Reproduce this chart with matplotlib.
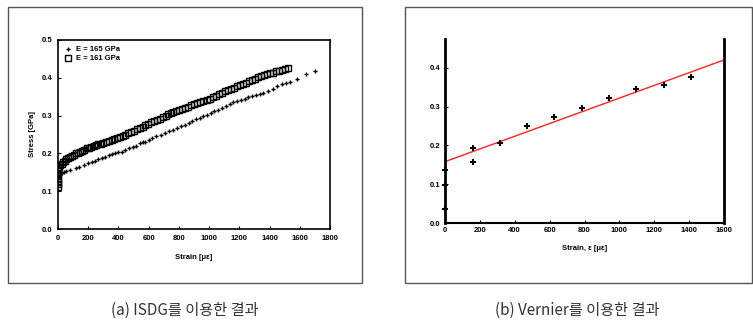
import matplotlib
matplotlib.use("Agg")
import matplotlib.pyplot as plt
from matplotlib.patches import Rectangle

plt.rcParams['font.family'] = ['Liberation Sans', 'Noto Sans CJK KR', 'DejaVu Sans']

# (a) ISDG - squares, E = 161 GPa
sq_x = [0, 0, 0, 0, 0, 0, 0,
        8, 15, 25, 35, 45, 55, 68, 80, 92, 105, 118, 130, 146, 160, 175, 190,
        205, 220, 235, 250, 268, 285, 300, 318, 335, 355, 372, 390, 408, 428,
        446, 466, 485, 505, 525, 545, 560, 576, 595, 615, 635, 655, 675, 695,
        712, 730, 748, 764, 782, 800, 820, 840, 860, 880, 900, 920, 940, 962,
        985, 1005, 1025, 1045, 1065, 1085, 1105, 1125, 1145, 1165, 1184, 1205,
        1225, 1245, 1265, 1285, 1305, 1325, 1345, 1365, 1385, 1405, 1425, 1445,
        1465, 1485, 1505, 1525]
sq_y = [0.112, 0.118, 0.125, 0.133, 0.142, 0.155, 0.162,
        0.165, 0.168, 0.172, 0.177, 0.181, 0.184, 0.188, 0.191, 0.194, 0.197,
        0.200, 0.202, 0.205, 0.207, 0.210, 0.213, 0.215, 0.218, 0.220, 0.222,
        0.224, 0.226, 0.228, 0.230, 0.233, 0.235, 0.238, 0.241, 0.244, 0.247,
        0.250, 0.253, 0.256, 0.260, 0.264, 0.268, 0.271, 0.275, 0.278, 0.282,
        0.285, 0.289, 0.292, 0.296, 0.299, 0.303, 0.306, 0.310, 0.312, 0.315,
        0.318, 0.321, 0.324, 0.327, 0.330, 0.333, 0.335, 0.338, 0.341, 0.345,
        0.348, 0.352, 0.356, 0.360, 0.364, 0.368, 0.371, 0.374, 0.377, 0.381,
        0.384, 0.387, 0.391, 0.394, 0.397, 0.401, 0.404, 0.407, 0.410, 0.412,
        0.414, 0.417, 0.419, 0.421, 0.423, 0.425]

# (a) ISDG - crosses, E = 165 GPa
cr_x = [5, 15, 24, 40, 55, 79, 120, 140, 175, 201, 225, 245, 265, 290, 311,
        335, 355, 380, 400, 421, 445, 470, 495, 515, 543, 560, 576, 600, 625,
        650, 680, 705, 735, 764, 790, 815, 840, 865, 890, 915, 940, 960, 985,
        1010, 1035, 1060, 1085, 1110, 1139, 1160, 1184, 1210, 1235, 1260, 1285,
        1310, 1335, 1359, 1390, 1420, 1450, 1480, 1510, 1536, 1580, 1640, 1700]
cr_y = [0.140, 0.143, 0.147, 0.150, 0.153, 0.156, 0.161, 0.164, 0.170, 0.174,
        0.178, 0.181, 0.184, 0.188, 0.191, 0.195, 0.198, 0.200, 0.203, 0.205,
        0.209, 0.213, 0.217, 0.220, 0.227, 0.229, 0.231, 0.236, 0.240, 0.245,
        0.250, 0.254, 0.258, 0.262, 0.267, 0.272, 0.276, 0.281, 0.286, 0.290,
        0.294, 0.298, 0.302, 0.307, 0.311, 0.316, 0.321, 0.326, 0.331, 0.335,
        0.338, 0.341, 0.345, 0.348, 0.351, 0.354, 0.357, 0.359, 0.365, 0.371,
        0.377, 0.383, 0.387, 0.390, 0.398, 0.409, 0.418]

# (b) Vernier
vn_x = [0, 0, 0, 158, 158, 315, 468, 626, 783, 939, 1096, 1254, 1413]
vn_y = [0.037, 0.098, 0.137, 0.194, 0.156, 0.207, 0.249, 0.274, 0.297, 0.321,
        0.346, 0.356, 0.377]
fit_x = [0, 1600]
fit_y = [0.158, 0.420]

a_xticks = [0, 200, 400, 600, 800, 1000, 1200, 1400, 1600, 1800]
a_yticks = [0.0, 0.1, 0.2, 0.3, 0.4, 0.5]
b_xticks = [0, 200, 400, 600, 800, 1000, 1200, 1400, 1600]
b_yticks = [0.0, 0.1, 0.2, 0.3, 0.4]

W, H = 753, 325
fig = plt.figure(figsize=(W / 100, H / 100), dpi=100)


def frac(x0, y0, x1, y1):
    # pixel box (top-left origin) -> figure fraction rect
    return [x0 / W, 1 - y1 / H, (x1 - x0) / W, (y1 - y0) / H]


for box in [(8, 7, 362, 283), (405, 7, 752, 283)]:
    l, b, w, h = frac(*box)
    fig.add_artist(Rectangle((l, b), w, h, transform=fig.transFigure,
                             fill=False, ec='#555555', lw=1.0))

tick_font = dict(fontsize=5.5, fontweight='bold')

# ---- (a)
ax1 = fig.add_axes(frac(58, 40, 330, 229))
ax1.plot(cr_x, cr_y, '+', color='k', ms=3, mew=1.0, label='E = 165 GPa')
ax1.plot(sq_x, sq_y, 's', mfc='none', mec='k', ms=4, mew=1.0,
         label='E = 161 GPa')
ax1.set_xlim(0, 1800)
ax1.set_ylim(0, 0.5)
ax1.set_xticks(a_xticks)
ax1.set_yticks(a_yticks)
ax1.set_xticklabels([str(v) for v in a_xticks], **tick_font)
ax1.set_yticklabels([f'{v:.1f}' for v in a_yticks], **tick_font)
ax1.tick_params(direction='in', length=2, width=0.8, pad=4)
for s in ax1.spines.values():
    s.set_linewidth(1.2)
ax1.set_xlabel('Strain [με]', fontsize=5.5, fontweight='bold', labelpad=9)
ax1.set_ylabel('Stress [GPa]', fontsize=5.5, fontweight='bold', labelpad=4)
ax1.legend(loc='upper left', frameon=False, prop=dict(size=5.5, weight='bold'),
           handletextpad=0.6, borderaxespad=0.4, labelspacing=0.2,
           handlelength=1.0)

# ---- (b)
ax2 = fig.add_axes(frac(445, 39, 724, 223))
ax2.plot(fit_x, fit_y, '-', color='#ff2020', lw=1.0)
ax2.plot(vn_x, vn_y, 'P', color='k', ms=4.5, mew=0, clip_on=False)
ax2.set_xlim(0, 1600)
ax2.set_ylim(0, 0.474)
ax2.set_xticks(b_xticks)
ax2.set_yticks(b_yticks)
ax2.set_xticklabels([str(v) for v in b_xticks], **tick_font)
ax2.set_yticklabels([f'{v:.1f}' for v in b_yticks], **tick_font)
ax2.tick_params(direction='in', length=2, width=0.8, pad=3)
ax2.spines['top'].set_visible(False)
for side in ['left', 'right']:
    ax2.spines[side].set_linewidth(2.0)
ax2.spines['bottom'].set_linewidth(1.5)
ax2.set_xlabel('Strain, ε [με]', fontsize=5.5, fontweight='bold', labelpad=8)

# captions
cap = dict(fontsize=11, color='#333333', ha='center', va='center',
           family=['Noto Sans CJK KR', 'DejaVu Sans'])
fig.text(185 / W, 1 - 310 / H, '(a) ISDG를 이용한 결과', **cap)
fig.text(577 / W, 1 - 310 / H, '(b) Vernier를 이용한 결과', **cap)

fig.savefig('out.png', dpi=100)
